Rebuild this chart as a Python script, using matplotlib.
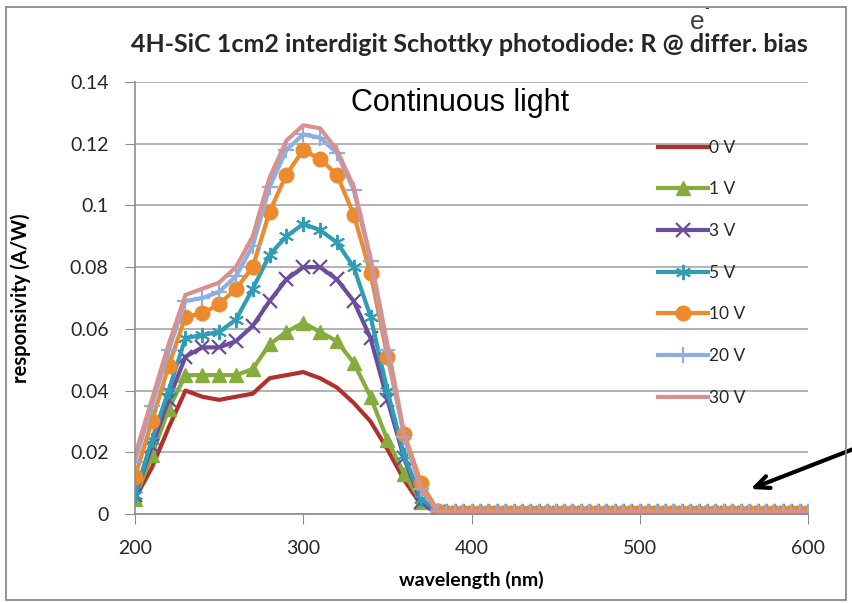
import matplotlib
matplotlib.use("Agg")
from matplotlib import pyplot as plt
from matplotlib.patches import Rectangle

# wavelength grid: 10 nm steps up to 380 nm, then 5 nm steps in the dark tail
wl_peak = [200, 210, 220, 230, 240, 250, 260, 270, 280, 290,
           300, 310, 320, 330, 340, 350, 360, 370, 380]
wl_tail = [385, 390, 395, 400, 405, 410, 415, 420, 425, 430, 435,
           440, 445, 450, 455, 460, 465, 470, 475, 480, 485, 490,
           495, 500, 505, 510, 515, 520, 525, 530, 535, 540, 545,
           550, 555, 560, 565, 570, 575, 580, 585, 590, 595, 600]

# responsivity (A/W) per bias, peak region
r0_peak = [0.005, 0.015, 0.028, 0.040, 0.038, 0.037, 0.038, 0.039, 0.044, 0.045,
           0.046, 0.044, 0.041, 0.036, 0.030, 0.021, 0.011, 0.003, 0.0005]
r1_peak = [0.005, 0.019, 0.034, 0.045, 0.045, 0.045, 0.045, 0.047, 0.055, 0.059,
           0.062, 0.059, 0.056, 0.049, 0.038, 0.024, 0.013, 0.004, 0.0005]
r3_peak = [0.006, 0.022, 0.037, 0.051, 0.054, 0.054, 0.056, 0.061, 0.069, 0.076,
           0.080, 0.080, 0.076, 0.069, 0.057, 0.037, 0.018, 0.004, 0.0005]
r5_peak = [0.006, 0.024, 0.040, 0.057, 0.058, 0.059, 0.063, 0.073, 0.084, 0.090,
           0.094, 0.092, 0.088, 0.080, 0.064, 0.040, 0.019, 0.005, 0.0008]
r10_peak = [0.012, 0.030, 0.048, 0.064, 0.065, 0.068, 0.073, 0.080, 0.098, 0.110,
            0.118, 0.115, 0.110, 0.097, 0.078, 0.051, 0.026, 0.010, 0.001]
r20_peak = [0.017, 0.035, 0.053, 0.069, 0.070, 0.072, 0.077, 0.087, 0.106, 0.118,
            0.123, 0.122, 0.117, 0.105, 0.082, 0.053, 0.025, 0.008, 0.001]
r30_peak = [0.019, 0.037, 0.055, 0.071, 0.073, 0.075, 0.080, 0.090, 0.109, 0.121,
            0.126, 0.125, 0.118, 0.106, 0.083, 0.055, 0.026, 0.008, 0.001]

# dark tail (above 380 nm), all essentially zero
r0_tail = [0.0002, 0.0002, 0.0002, 0.0002, 0.0002, 0.0002, 0.0002, 0.0002, 0.0002, 0.0002, 0.0002,
           0.0002, 0.0002, 0.0002, 0.0002, 0.0002, 0.0002, 0.0002, 0.0002, 0.0002, 0.0002, 0.0002,
           0.0002, 0.0002, 0.0002, 0.0002, 0.0002, 0.0002, 0.0002, 0.0002, 0.0002, 0.0002, 0.0002,
           0.0002, 0.0002, 0.0002, 0.0002, 0.0002, 0.0002, 0.0002, 0.0002, 0.0002, 0.0002, 0.0002]
r1_tail = [0.0003, 0.0003, 0.0003, 0.0003, 0.0003, 0.0003, 0.0003, 0.0003, 0.0003, 0.0003, 0.0003,
           0.0003, 0.0003, 0.0003, 0.0003, 0.0003, 0.0003, 0.0003, 0.0003, 0.0003, 0.0003, 0.0003,
           0.0003, 0.0003, 0.0003, 0.0003, 0.0003, 0.0003, 0.0003, 0.0003, 0.0003, 0.0003, 0.0003,
           0.0003, 0.0003, 0.0003, 0.0003, 0.0003, 0.0003, 0.0003, 0.0003, 0.0003, 0.0003, 0.0003]
r3_tail = [0.0004, 0.0004, 0.0004, 0.0004, 0.0004, 0.0004, 0.0004, 0.0004, 0.0004, 0.0004, 0.0004,
           0.0004, 0.0004, 0.0004, 0.0004, 0.0004, 0.0004, 0.0004, 0.0004, 0.0004, 0.0004, 0.0004,
           0.0004, 0.0004, 0.0004, 0.0004, 0.0004, 0.0004, 0.0004, 0.0004, 0.0004, 0.0004, 0.0004,
           0.0004, 0.0004, 0.0004, 0.0004, 0.0004, 0.0004, 0.0004, 0.0004, 0.0004, 0.0004, 0.0004]
r5_tail = [0.0010, 0.0010, 0.0010, 0.0010, 0.0010, 0.0010, 0.0010, 0.0010, 0.0010, 0.0010, 0.0010,
           0.0010, 0.0010, 0.0010, 0.0010, 0.0010, 0.0010, 0.0010, 0.0010, 0.0010, 0.0010, 0.0010,
           0.0010, 0.0010, 0.0010, 0.0010, 0.0010, 0.0010, 0.0010, 0.0010, 0.0010, 0.0010, 0.0010,
           0.0010, 0.0010, 0.0010, 0.0010, 0.0010, 0.0010, 0.0010, 0.0010, 0.0010, 0.0010, 0.0010]
r10_tail = [0.0003, 0.0003, 0.0003, 0.0003, 0.0003, 0.0003, 0.0003, 0.0003, 0.0003, 0.0003, 0.0003,
            0.0003, 0.0003, 0.0003, 0.0003, 0.0003, 0.0003, 0.0003, 0.0003, 0.0003, 0.0003, 0.0003,
            0.0003, 0.0003, 0.0003, 0.0003, 0.0003, 0.0003, 0.0003, 0.0003, 0.0003, 0.0003, 0.0003,
            0.0003, 0.0003, 0.0003, 0.0003, 0.0003, 0.0003, 0.0003, 0.0003, 0.0003, 0.0003, 0.0003]
r20_tail = [0.0005, 0.0005, 0.0005, 0.0005, 0.0005, 0.0005, 0.0005, 0.0005, 0.0005, 0.0005, 0.0005,
            0.0005, 0.0005, 0.0005, 0.0005, 0.0005, 0.0005, 0.0005, 0.0005, 0.0005, 0.0005, 0.0005,
            0.0005, 0.0005, 0.0005, 0.0005, 0.0005, 0.0005, 0.0005, 0.0005, 0.0005, 0.0005, 0.0005,
            0.0005, 0.0005, 0.0005, 0.0005, 0.0005, 0.0005, 0.0005, 0.0005, 0.0005, 0.0005, 0.0005]
r30_tail = [0.0006, 0.0006, 0.0006, 0.0006, 0.0006, 0.0006, 0.0006, 0.0006, 0.0006, 0.0006, 0.0006,
            0.0006, 0.0006, 0.0006, 0.0006, 0.0006, 0.0006, 0.0006, 0.0006, 0.0006, 0.0006, 0.0006,
            0.0006, 0.0006, 0.0006, 0.0006, 0.0006, 0.0006, 0.0006, 0.0006, 0.0006, 0.0006, 0.0006,
            0.0006, 0.0006, 0.0006, 0.0006, 0.0006, 0.0006, 0.0006, 0.0006, 0.0006, 0.0006, 0.0006]

bias_labels = ["0 V", "1 V", "3 V", "5 V", "10 V", "20 V", "30 V"]
y_ticks = [0, 0.02, 0.04, 0.06, 0.08, 0.1, 0.12, 0.14]
y_ticklabels = ["0", "0.02", "0.04", "0.06", "0.08", "0.1", "0.12", "0.14"]
x_ticks = [200, 300, 400, 500, 600]

wl = wl_peak + wl_tail
series = [r0_peak + r0_tail, r1_peak + r1_tail, r3_peak + r3_tail, r5_peak + r5_tail,
          r10_peak + r10_tail, r20_peak + r20_tail, r30_peak + r30_tail]

styles = [
    dict(color="#b22f2b", marker=None),
    dict(color="#86ac3e", marker="^", ms=10.5),
    dict(color="#6b4d9b", marker="x", ms=10, mew=1.6),
    dict(color="#2e9db5", marker=(6, 2, 0), ms=11, mew=1.4),
    dict(color="#ee8a2e", marker="o", ms=10.5),
    dict(color="#8eaee0", marker="+", ms=12, mew=1.6),
    dict(color="#d8918f", marker=None),
]

plt.rcParams["font.family"] = ["Lato", "DejaVu Sans"]

fig = plt.figure(figsize=(8.52, 6.03), dpi=100)
ax = fig.add_axes([135 / 852, 1 - 514 / 603, 673 / 852, 432 / 603])

for vals, lab, st in zip(series, bias_labels, styles):
    ax.plot(wl, vals, lw=3.0, label=lab, color=st["color"], marker=st["marker"],
            markersize=st.get("ms", 6), markeredgewidth=st.get("mew", 1.0))

ax.set_xlim(200, 600)
ax.set_ylim(0, 0.14)
ax.set_yticks(y_ticks)
ax.set_yticklabels(y_ticklabels)
ax.set_xticks(x_ticks)
ax.yaxis.grid(True, color="#a6a6a6", lw=1.2)
ax.set_axisbelow(True)
for side in ["top", "right"]:
    ax.spines[side].set_visible(False)
ax.spines["left"].set_color("#8c8c8c")
ax.spines["bottom"].set_color("#8c8c8c")
ax.spines["left"].set_linewidth(1.2)
ax.spines["bottom"].set_linewidth(1.2)
ax.tick_params(axis="y", direction="out", length=7, color="#8c8c8c",
               labelsize=14, labelcolor="#262626", pad=12)
ax.tick_params(axis="x", direction="out", length=7, color="#8c8c8c",
               labelsize=14, labelcolor="#262626", pad=12)

ax.set_xlabel("wavelength (nm)", fontsize=14, fontweight="bold", labelpad=10)
ax.set_ylabel("responsivity (A/W)", fontsize=14.5, fontweight="bold", labelpad=28)

leg = ax.legend(loc="upper left", bbox_to_anchor=(649 / 852, 1 - 131 / 603),
                bbox_transform=fig.transFigure, frameon=False, fontsize=12.5,
                handlelength=2.9, handletextpad=0.05, labelspacing=1.48, borderpad=0)
for t in leg.get_texts():
    t.set_color("#262626")

fig.text(469 / 852, 1 - 45 / 603, "4H-SiC 1cm2 interdigit Schottky photodiode: R @ differ. bias",
         ha="center", va="center", fontsize=18, fontweight="bold", color="#262626")
fig.text(460 / 852, 1 - 103 / 603, "Continuous light", ha="center", va="center",
         fontsize=22, family="Liberation Sans", color="black")
fig.text(697 / 852, 1 - 22 / 603, "e", ha="center", va="center",
         fontsize=19, family="Liberation Sans", color="#404040")
fig.text(704 / 852, 1 - 8 / 603, "-", ha="left", va="center",
         fontsize=10, family="Liberation Sans", color="#404040")

ax.annotate("", xy=(748 / 852, 1 - 490 / 603), xycoords="figure fraction",
            xytext=(856 / 852, 1 - 448 / 603), textcoords="figure fraction",
            arrowprops=dict(arrowstyle="->,head_length=1.0,head_width=0.45",
                            color="black", lw=3))

fig.patches.append(Rectangle((6 / 852, 1 - 600 / 603), 840 / 852, 593 / 603,
                             transform=fig.transFigure, fill=False,
                             edgecolor="#8a8a8a", lw=1.3))

fig.savefig("out.png", dpi=100)
